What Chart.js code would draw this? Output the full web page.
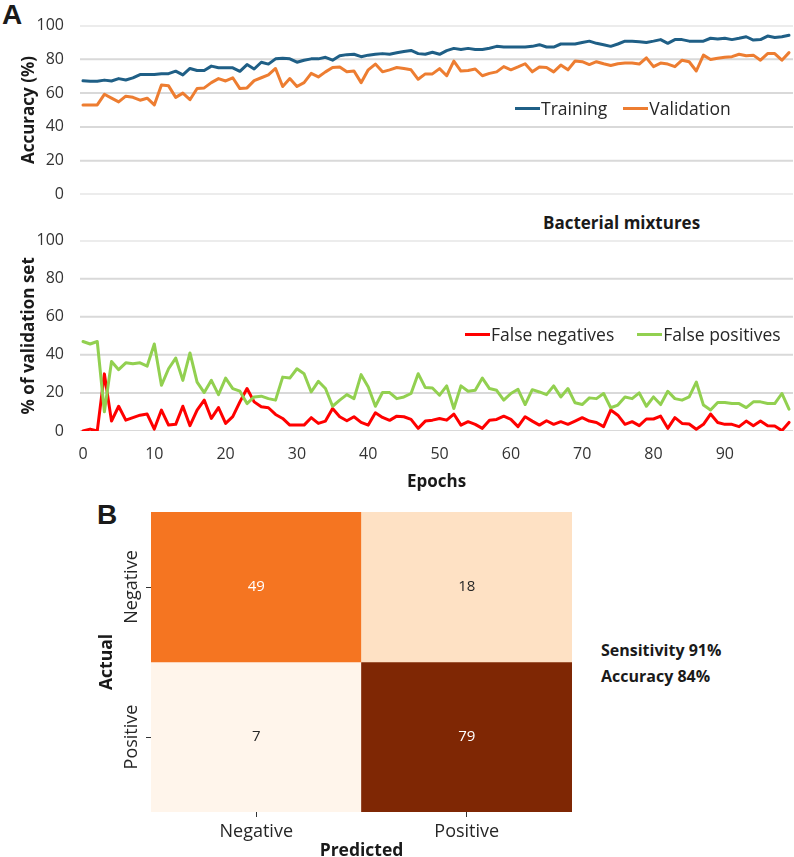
<!DOCTYPE html>
<html>
<head>
<meta charset="utf-8">
<title>Bacterial mixtures - training curves and confusion matrix</title>
<script src="https://cdn.jsdelivr.net/npm/chart.js@4.4.1/dist/chart.umd.min.js"></script>
<style>
  html, body { margin: 0; padding: 0; background: #fff; overflow: hidden; }
  body { width: 794px; height: 857px; position: relative; font-family: "Open Sans", sans-serif; color: #1a1a1a; }
  canvas { position: absolute; left: 0; }
  .panel { position: absolute; font-family: "Liberation Sans", Arial, sans-serif; font-weight: bold; font-size: 28px; line-height: 1; }
  .legend { position: absolute; display: flex; align-items: center; height: 24px; font-size: 17.5px; color: #262626; white-space: nowrap; }
  .legend .item { display: flex; align-items: center; }
  .legend .swatch { display: inline-block; width: 25px; height: 3px; margin-right: 1px; }
  .note { position: absolute; font-weight: bold; white-space: nowrap; }
</style>
</head>
<body>
<div class="panel" style="left:2px; top:1px;">A</div>
<div class="panel" style="left:97px; top:501px;">B</div>
<div class="note" style="left:543px; top:213px; font-size:17px; line-height:20px;">Bacterial mixtures</div>
<div class="note" style="left:601px; top:637px; font-size:16px; line-height:26px;">Sensitivity 91%<br>Accuracy 84%</div>

<canvas id="accChart" width="794" height="220" style="top:0px;"></canvas>
<canvas id="errChart" width="794" height="285" style="top:215px;"></canvas>
<canvas id="cmChart" width="794" height="372" style="top:490px;"></canvas>
<div id="accLegend" class="legend" style="left:515px; top:96px;"></div>
<div id="errLegend" class="legend" style="left:465px; top:322px;"></div>

<script>
// ---- data ----
const epochs = Array.from({length: 100}, (_, i) => i);
const xTicks = [0, 10, 20, 30, 40, 50, 60, 70, 80, 90];
const yTicks = [0, 20, 40, 60, 80, 100];

const training = [
  67.3, 67, 67, 67.7, 67.2, 68.6, 67.8, 69, 71, 71,
  71, 71.5, 71.5, 73, 70.8, 74.6, 73.4, 73.4, 76, 75,
  75, 75, 72.9, 76.9, 74.3, 78.3, 77.2, 80.3, 80.7, 80.3,
  78.3, 79.5, 80.3, 80.3, 81.2, 79.5, 82.1, 82.8, 83, 81.6,
  82.5, 83, 83.4, 83, 83.9, 84.7, 85.3, 83.4, 83, 84.2,
  83, 85.2, 86.5, 85.9, 86.5, 85.9, 85.9, 86.6, 87.7, 87.3,
  87.3, 87.3, 87.3, 87.7, 88.7, 87.3, 87.3, 89.1, 89.1, 89.1,
  90, 90.8, 89.5, 88.7, 87.7, 89.1, 90.8, 90.8, 90.5, 90,
  90.8, 91.7, 89.5, 91.7, 91.7, 90.8, 90.8, 90.8, 92.5, 92,
  92.5, 91.7, 92.5, 93.4, 91.4, 91.7, 93.8, 92.9, 93.4, 94.3
];
const validation = [
  53, 53, 53, 59.3, 57, 54.8, 58.2, 57.5, 55.8, 57,
  53, 64.8, 64.3, 57.5, 60, 56.1, 62.7, 63.1, 66.2, 68.6,
  67.2, 69.1, 62.7, 63.1, 67.4, 69.1, 70.8, 74.6, 63.9, 68.6,
  63.9, 66.2, 71.7, 69.6, 72.6, 75.2, 75.5, 72.6, 73.1, 66.2,
  73.8, 77.2, 72.6, 73.8, 75.2, 74.6, 73.8, 68.2, 71.4, 71.4,
  74.5, 70.3, 79, 73.1, 73.4, 74.3, 70.3, 71.7, 72.6, 75.7,
  73.8, 75.5, 77.4, 72.6, 75.5, 75.2, 72.6, 76.6, 73.8, 79,
  78.6, 76.9, 78.6, 77.4, 76.4, 77.4, 77.8, 77.8, 77.2, 80.9,
  75.7, 77.8, 77.2, 75.7, 79.5, 78.6, 73.1, 82.5, 79.9, 80.7,
  81.3, 81.6, 83, 82.1, 82.5, 79.5, 83.4, 83.4, 79.5, 84
];
const falseNegatives = [
  0, 1, 0, 30, 5.2, 13, 5.7, 7, 8.3, 8.9,
  1, 11, 3.1, 3.5, 13, 2.8, 11, 16.2, 6.6, 12.3,
  4, 7.5, 15.3, 22.3, 15.3, 12.7, 12.2, 8.7, 6.6, 3.1,
  3.1, 3.1, 7, 4, 5.2, 11.8, 7.5, 5.4, 7.5, 4.5,
  3.1, 9.6, 7.1, 5.6, 7.8, 7.5, 6.1, 1.4, 5.2, 5.7,
  6.6, 5.7, 8.9, 3.1, 4.9, 3.5, 1.4, 5.7, 6.1, 7.8,
  6.1, 2.3, 7.5, 5.2, 3.1, 5.4, 3.5, 4.9, 3.5, 5.2,
  7, 5.2, 4.5, 2.3, 11, 8.3, 3.5, 4.9, 2.8, 6.3,
  6.3, 7.8, 1.4, 7, 4, 3.7, 0.9, 3.5, 8.9, 4.5,
  3.5, 3.5, 2.3, 5.2, 2.8, 5.2, 2.8, 2.6, 0.2, 4.5
];
const falsePositives = [
  47, 45.7, 47, 10.1, 36.5, 32.2, 35.8, 35.3, 35.8, 34.1,
  45.7, 24, 32.7, 38.3, 26.6, 41, 25.7, 20.2, 26.6, 19.1,
  27.8, 22.3, 20.9, 14.4, 17.9, 18.3, 17, 16.2, 28.3, 27.8,
  32.7, 30.1, 20.5, 26.1, 22.3, 13, 16.2, 19.1, 17, 29.6,
  23.1, 13, 20.2, 20.2, 17, 17.9, 19.7, 30.1, 22.8, 22.6,
  18.8, 23.7, 11.8, 23.7, 20.9, 21.4, 27.8, 22.3, 21.4, 16.2,
  19.7, 21.9, 13.9, 21.7, 20.5, 19.1, 23.7, 17.9, 22.3, 14.8,
  13.9, 17.4, 17, 19.7, 12.2, 13.6, 17.9, 17, 20, 13,
  17.9, 13.9, 20.9, 17, 16.2, 17.9, 25.7, 13.6, 11, 15,
  15, 14.4, 14.4, 12.3, 15.3, 15.3, 14.4, 14.4, 19.7, 11.5
];

// confusion matrix: rows = actual, columns = predicted
const actualLabels = ['Negative', 'Positive'];
const predictedLabels = ['Negative', 'Positive'];
const confusion = [
  [49, 18],
  [7, 79]
];

// ---- styling ----
Chart.defaults.font.family = '"Open Sans", sans-serif';
Chart.defaults.color = '#333';
Chart.defaults.animation = false;

const gridColor = '#d9d9d9';
const tickFont = {size: 16};
const titleFont = {size: 17, weight: 'bold'};
const xMin = -0.42, xMax = 99.56;

function lineChart(canvasId, series, yTitle, showX, padTop) {
  const seriesSets = series.map((s, i) => ({
    label: s.label,
    data: s.values.map((v, j) => ({x: epochs[j], y: v})),
    borderColor: s.color,
    backgroundColor: s.color,
    borderWidth: 3,
    pointRadius: 0,
    tension: 0,
    borderJoinStyle: 'round',
    borderCapStyle: 'round',
    order: series.length - i  // later series on top, like the original
  }));
  // horizontal gridlines as thin line datasets at each y tick, drawn first
  const gridSets = yTicks.map(v => ({
    label: '',
    isGrid: true,
    data: [{x: xMin, y: v}, {x: xMax, y: v}],
    borderColor: gridColor,
    borderWidth: 2,
    pointRadius: 0,
    order: 100
  }));
  return new Chart(document.getElementById(canvasId), {
    type: 'line',
    data: {datasets: seriesSets.concat(gridSets)},
    options: {
      responsive: false,
      animation: false,
      events: [],
      layout: {padding: {top: padTop, right: 1, bottom: showX ? 0 : 14, left: 0}},
      plugins: {legend: {display: false}, tooltip: {enabled: false}},
      scales: {
        x: {
          type: 'linear',
          bounds: 'data',
          min: xMin,
          max: xMax,
          display: showX,
          grid: {display: false, drawTicks: false},
          border: {display: false},
          afterBuildTicks: s => { s.ticks = xTicks.map(v => ({value: v})); },
          ticks: {padding: 14, font: tickFont, color: '#333', maxRotation: 0, autoSkip: false},
          title: {display: true, text: 'Epochs', font: titleFont, color: '#1a1a1a', padding: {top: 0, bottom: 8}},
          afterFit: s => { if (showX) s.height = 69; }
        },
        y: {
          min: 0,
          max: 100,
          afterBuildTicks: s => { s.ticks = yTicks.map(v => ({value: v})); },
          grid: {display: false, drawTicks: false},
          border: {display: false},
          ticks: {padding: 16, font: tickFont, color: '#333'},
          title: {display: true, text: yTitle, font: titleFont, color: '#1a1a1a', padding: {top: 19, bottom: 0}},
          afterFit: s => { s.width = 80; }
        }
      }
    }
  });
}

function htmlLegend(elId, chart, gap) {
  const el = document.getElementById(elId);
  chart.data.datasets.filter(ds => !ds.isGrid).forEach((ds, i) => {
    const item = document.createElement('span');
    item.className = 'item';
    if (i > 0) item.style.marginLeft = gap + 'px';
    const sw = document.createElement('span');
    sw.className = 'swatch';
    sw.style.background = ds.borderColor;
    const txt = document.createElement('span');
    txt.textContent = ds.label;
    item.appendChild(sw);
    item.appendChild(txt);
    el.appendChild(item);
  });
}

const accChart = lineChart('accChart', [
  {label: 'Training', values: training, color: '#1f5f86'},
  {label: 'Validation', values: validation, color: '#ed7d31'}
], 'Accuracy (%)', false, 14.4);

const errChart = lineChart('errChart', [
  {label: 'False negatives', values: falseNegatives, color: '#ff0000'},
  {label: 'False positives', values: falsePositives, color: '#92d050'}
], '% of validation set', true, 24);

htmlLegend('accLegend', accChart, 16);
htmlLegend('errLegend', errChart, 23);

// ---- confusion matrix as floating bars ----
const orangesStops = ['#fff5eb', '#fee6ce', '#fdd0a2', '#fdae6b', '#fd8d3c', '#f16913', '#d94801', '#a63603', '#7f2704'];
const flatCounts = confusion.flat();
const vmin = Math.min(...flatCounts), vmax = Math.max(...flatCounts);

function hexToRgb(h) {
  return [1, 3, 5].map(k => parseInt(h.substr(k, 2), 16));
}
function orangeFor(v) {
  const t = (v - vmin) / (vmax - vmin) * (orangesStops.length - 1);
  const i = Math.min(Math.floor(t), orangesStops.length - 2);
  const f = t - i;
  const a = hexToRgb(orangesStops[i]), b = hexToRgb(orangesStops[i + 1]);
  const c = a.map((x, k) => Math.round(x + (b[k] - x) * f));
  return `rgb(${c[0]},${c[1]},${c[2]})`;
}

const nRows = actualLabels.length;

const cellValues = {
  id: 'cellValues',
  afterDatasetsDraw(chart) {
    const ctx = chart.ctx;
    ctx.save();
    ctx.font = '15px "Open Sans"';
    ctx.textAlign = 'center';
    ctx.textBaseline = 'middle';
    chart.data.datasets.forEach((ds, r) => {
      chart.getDatasetMeta(r).data.forEach((bar, c) => {
        const v = confusion[r][c];
        ctx.fillStyle = v > (vmin + vmax) / 2 ? '#ffffff' : '#262626';
        ctx.fillText(String(v), bar.x, (bar.y + bar.base) / 2);
      });
    });
    ctx.restore();
  }
};

const rowLabels = {
  id: 'rowLabels',
  afterDraw(chart) {
    const s = chart.scales.y, ctx = chart.ctx;
    ctx.save();
    ctx.font = '18px "Open Sans"';
    ctx.fillStyle = '#262626';
    ctx.textAlign = 'center';
    ctx.textBaseline = 'middle';
    actualLabels.forEach((lab, r) => {
      const y = s.getPixelForValue(nRows - r - 0.5);
      ctx.save();
      ctx.translate(s.right - 19, y);
      ctx.rotate(-Math.PI / 2);
      ctx.fillText(lab, 0, 0);
      ctx.restore();
    });
    ctx.restore();
  }
};

new Chart(document.getElementById('cmChart'), {
  type: 'bar',
  data: {
    labels: predictedLabels,
    datasets: actualLabels.map((lab, r) => ({
      label: lab,
      data: predictedLabels.map(() => [nRows - r - 1, nRows - r]),
      backgroundColor: confusion[r].map(orangeFor),
      borderWidth: 0,
      borderSkipped: false,
      grouped: false,
      barPercentage: 1,
      categoryPercentage: 1
    }))
  },
  options: {
    responsive: false,
    animation: false,
    events: [],
    layout: {padding: {top: 22, right: 222, bottom: 0, left: 0}},
    plugins: {legend: {display: false}, tooltip: {enabled: false}},
    scales: {
      x: {
        grid: {display: true, offset: false, drawOnChartArea: false, drawTicks: true, tickLength: 5, tickColor: '#333', tickWidth: 1},
        border: {display: false},
        ticks: {padding: 4, font: {size: 18}, color: '#262626', maxRotation: 0},
        title: {display: true, text: 'Predicted', font: {size: 17.5, weight: 'bold'}, color: '#1a1a1a', padding: {top: 0, bottom: 0}},
        afterFit: s => { s.height = 50; }
      },
      y: {
        min: 0,
        max: nRows,
        afterBuildTicks: s => { s.ticks = actualLabels.map((_, r) => ({value: nRows - r - 0.5})); },
        grid: {display: true, drawOnChartArea: false, drawTicks: true, tickLength: 5, tickColor: '#333', tickWidth: 1},
        border: {display: false},
        ticks: {display: false},
        title: {display: true, text: 'Actual', font: {size: 17.5, weight: 'bold'}, color: '#1a1a1a', padding: {top: 97, bottom: 0}},
        afterFit: s => { s.width = 151; }
      }
    }
  },
  plugins: [cellValues, rowLabels]
});
</script>
</body>
</html>
